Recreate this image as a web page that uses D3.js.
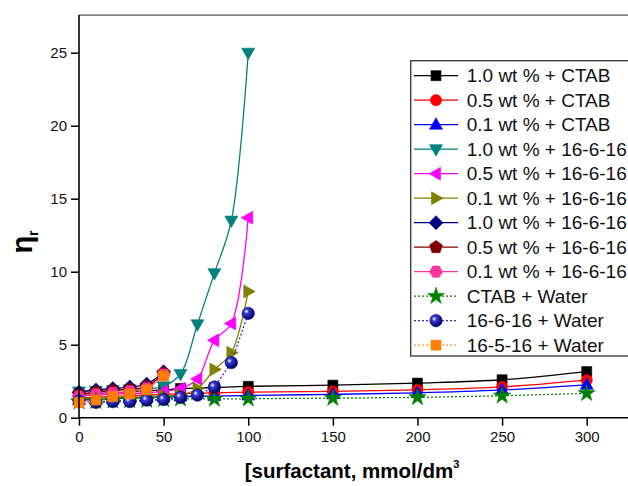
<!DOCTYPE html>
<html><head><meta charset="utf-8">
<script src="https://cdn.jsdelivr.net/npm/d3@7"></script>
<style>body{margin:0;background:#fff}svg{display:block}text{font-family:"Liberation Sans",Arial,sans-serif}</style>
</head><body><svg id="c" width="628" height="486"></svg>
<script>
// ---- data ----
const xCtab = [0,10,20,30,40,50,60,80,100,150,200,250,300];
const ctab10 = [1.6,1.65,1.7,1.75,1.85,1.9,2.0,2.07,2.15,2.23,2.37,2.6,3.16];
const ctab05 = [1.35,1.4,1.45,1.5,1.55,1.6,1.65,1.7,1.75,1.8,1.91,2.11,2.57];
const ctab01 = [1.2,1.25,1.3,1.35,1.4,1.42,1.45,1.48,1.52,1.6,1.7,1.9,2.25];
const ctabWater = [1.1,1.12,1.15,1.18,1.2,1.25,1.3,1.28,1.3,1.34,1.39,1.5,1.67];
const xGem = [0,10,20,30,40,50,60,70,80,90,100];
const gem10 = [1.8,1.85,1.9,1.95,2.0,2.15,3.0,6.4,9.9,13.5,25.0];
const gem05 = [1.5,1.55,1.6,1.65,1.7,1.8,2.0,2.65,5.3,6.45,13.7];
const gem01 = [1.3,1.35,1.4,1.4,1.45,1.5,1.55,2.0,3.3,4.45,8.65];
const gemWater = [1.15,1.05,1.1,1.1,1.2,1.25,1.4,1.55,2.1,3.77,7.15];
const xShort = [0,10,20,30,40,50];
const b10 = [1.75,1.9,2.0,2.1,2.3,3.15];
const b05 = [1.6,1.75,1.85,1.95,2.15,3.05];
const b01 = [1.45,1.6,1.7,1.8,2.0,2.95];
const w1651 = [1.03,1.21,1.44,1.62,1.9,2.86];
const labels = ["1.0 wt % + CTAB","0.5 wt % + CTAB","0.1 wt % + CTAB","1.0 wt % + 16-6-16","0.5 wt % + 16-6-16","0.1 wt % + 16-6-16","1.0 wt % + 16-6-16","0.5 wt % + 16-6-16","0.1 wt % + 16-6-16","CTAB + Water","16-6-16 + Water","16-5-16 + Water"];
const xTicks = [0,50,100,150,200,250,300];
const yTicks = [0,5,10,15,20,25];

const series = [
 {x:xCtab,y:ctab10,c:"#000000",m:"square",dash:null},
 {x:xCtab,y:ctab05,c:"#ff0000",m:"circle",dash:null},
 {x:xCtab,y:ctab01,c:"#0000ff",m:"triUp",dash:null},
 {x:xGem,y:gem10,c:"#008080",m:"triDown",dash:null},
 {x:xGem,y:gem05,c:"#ff00ff",m:"triLeft",dash:null},
 {x:xGem,y:gem01,c:"#808000",m:"triRight",dash:null},
 {x:xShort,y:b10,c:"#000080",m:"diamond",dash:null},
 {x:xShort,y:b05,c:"#800000",m:"pentagon",dash:null},
 {x:xShort,y:b01,c:"#ff3399",m:"hexagon",dash:null},
 {x:xCtab,y:ctabWater,c:"#008000",m:"star",dash:"2,2"},
 {x:xGem,y:gemWater,c:"#2a2ac8",m:"sphere",dash:"2,2",fill:"#000099"},
 {x:xShort,y:w1651,c:"#ff8000",m:"square",dash:"2,2",fill:"#ff8000",lc:"#ff9933"}
];

const svg = d3.select("#c");
const x = d3.scaleLinear().domain([0,300]).range([79,586.7]);
const y = d3.scaleLinear().domain([0,25]).range([417.7,52.7]);

const defs = svg.append("defs");
const g = defs.append("radialGradient").attr("id","sph").attr("cx","35%").attr("cy","35%").attr("r","65%");
g.append("stop").attr("offset","0%").attr("stop-color","#ffffff");
g.append("stop").attr("offset","30%").attr("stop-color","#3a3ad0");
g.append("stop").attr("offset","100%").attr("stop-color","#000066");

function poly(n, r, a0){
  const p=[];for(let i=0;i<n;i++){const a=a0+i*2*Math.PI/n;p.push([r*Math.cos(a),r*Math.sin(a)]);}
  return "M"+p.map(d=>d[0].toFixed(2)+","+d[1].toFixed(2)).join("L")+"Z";
}
function markerPath(m){
  switch(m){
    case "square": return "M-5,-5L5,-5L5,5L-5,5Z";
    case "circle": return d3.symbol(d3.symbolCircle, 100)();
    case "triUp": return "M0,-7L6.5,4.5L-6.5,4.5Z";
    case "triDown": return "M0,7L6.5,-4.5L-6.5,-4.5Z";
    case "triLeft": return "M-7,0L4.5,-6.5L4.5,6.5Z";
    case "triRight": return "M7,0L-4.5,-6.5L-4.5,6.5Z";
    case "diamond": return "M0,-7L7,0L0,7L-7,0Z";
    case "pentagon": return poly(5,6.8,-Math.PI/2);
    case "hexagon": return poly(6,6.5,0);
    case "star": return d3.symbol(d3.symbolStar, 90)();
    case "sphere": return d3.symbol(d3.symbolCircle, 120)();
  }
}
function drawMarker(sel, s){
  sel.append("path").attr("d",markerPath(s.m))
    .attr("fill", s.m==="sphere" ? "url(#sph)" : (s.fill||s.c))
    .attr("stroke", s.m==="sphere" ? "#000066" : (s.fill||s.c)).attr("stroke-width",0.6);
}

const plot = svg.append("g");
const xEnd = x(330);
svg.append("line").attr("x1",x(0)).attr("x2",xEnd).attr("y1",y(27.58)).attr("y2",y(27.58)).attr("stroke","#555").attr("stroke-width",1.3);

series.forEach(s=>{
  const pts = s.x.map((v,i)=>[x(v),y(s.y[i])]);
  const line = d3.line().curve(s.dash ? d3.curveLinear : d3.curveCatmullRom.alpha(0.5));
  const p = plot.append("path").attr("d",line(pts)).attr("fill","none").attr("stroke",s.lc||s.c).attr("stroke-width",1.3);
  if(s.dash) p.attr("stroke-dasharray",s.dash);
  pts.forEach(pt=>{ drawMarker(plot.append("g").attr("transform",`translate(${pt[0]},${pt[1]})`), s); });
});

const xa = svg.append("g").attr("transform",`translate(0,${y(0)})`)
  .call(d3.axisBottom(x).tickValues(xTicks).tickSize(8).tickPadding(6).tickSizeOuter(0));
xa.select(".domain").attr("d",`M${x(0)},0H${xEnd}`);
const ya = svg.append("g").attr("transform",`translate(${x(0)},0)`)
  .call(d3.axisLeft(y).tickValues(yTicks).tickSize(8).tickPadding(4).tickSizeOuter(0));
ya.select(".domain").attr("d",`M0,${y(27.58)}V${y(0)}`);
[xa,ya].forEach(a=>{
  a.selectAll(".domain").attr("stroke","#000").attr("stroke-width",1.6);
  a.selectAll(".tick line").attr("stroke","#000").attr("stroke-width",1.5);
  a.selectAll(".tick text").attr("font-size",15).attr("fill","#111").style("font-family","Liberation Sans, Arial, sans-serif");
});

const xt = svg.append("text").attr("x",352).attr("y",478).attr("text-anchor","middle")
  .attr("font-size",20.5).attr("font-weight","bold").attr("fill","#000");
xt.append("tspan").text("[surfactant, mmol/dm");
xt.append("tspan").attr("font-size",11).attr("dy",-10).text("3");
const yt = svg.append("text").attr("transform","translate(32,242) rotate(-90)").attr("text-anchor","middle")
  .attr("font-size",29).attr("font-weight","bold").attr("fill","#000");
yt.append("tspan").text("η");
yt.append("tspan").attr("font-size",14).attr("dy",6).text("r");

const lg = svg.append("g");
lg.append("rect").attr("x",410.7).attr("y",60.7).attr("width",240).attr("height",295.3)
  .attr("fill","#fff").attr("stroke","#333").attr("stroke-width",1.3);
labels.forEach((lab,i)=>{
  const s = series[i];
  const yy = 75.7 + i*24.5;
  const l = lg.append("line").attr("x1",414).attr("x2",458).attr("y1",yy).attr("y2",yy).attr("stroke",s.lc||s.c).attr("stroke-width",1.3);
  if(s.dash) l.attr("stroke-dasharray",s.dash);
  drawMarker(lg.append("g").attr("transform",`translate(436,${yy})`), s);
  lg.append("text").attr("x",466.7).attr("y",yy+6.5).attr("font-size",19).attr("fill","#111").text(lab);
});
</script></body></html>
